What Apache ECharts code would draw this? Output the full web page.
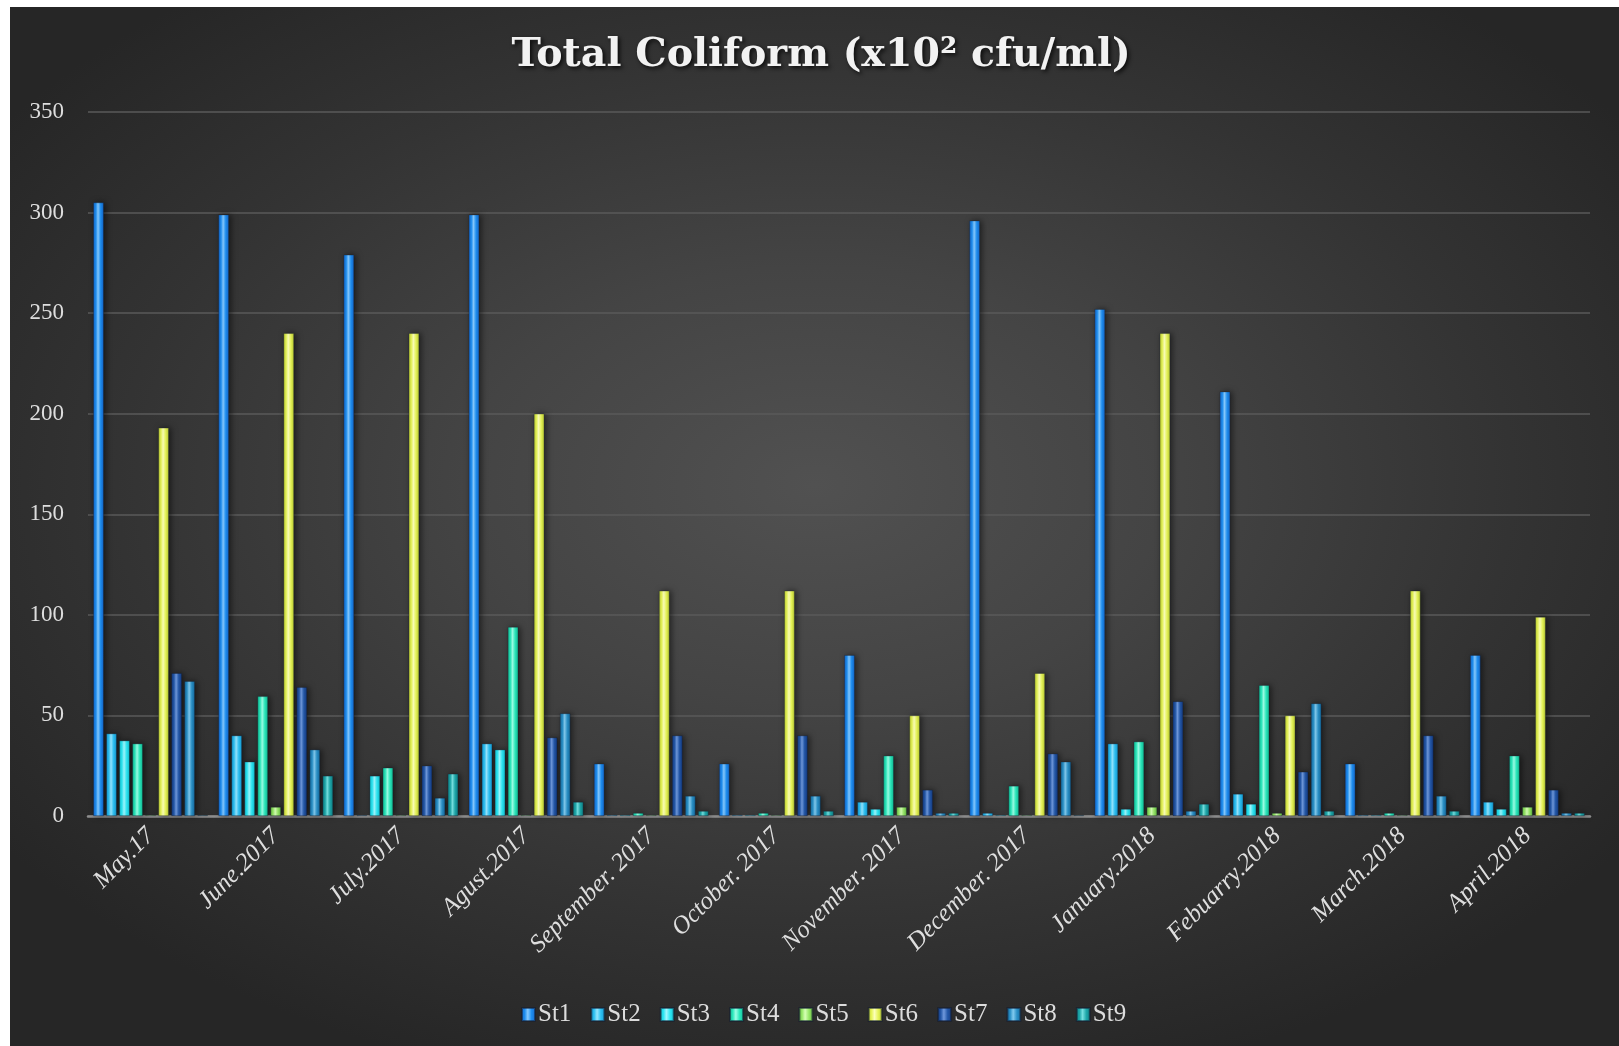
<!DOCTYPE html>
<html>
<head>
<meta charset="utf-8">
<title>Total Coliform</title>
<script src="https://cdn.jsdelivr.net/npm/echarts@6/dist/echarts.min.js"></script>
<style>
  html, body { margin: 0; padding: 0; background: #ffffff; }
  #panel {
    position: absolute; left: 10px; top: 7px; width: 1609px; height: 1039px;
    background: radial-gradient(ellipse 62% 60% at 50% 46%, #515151 0%, #444444 35%, #333333 70%, #262626 100%);
  }
  #chart { position: absolute; left: 0; top: 0; width: 1619px; height: 1046px; }
</style>
</head>
<body>
<div id="panel"></div>
<div id="chart"></div>
<script>
// Sampling months
const months = ['May.17', 'June.2017', 'July.2017', 'Agust.2017', 'September. 2017', 'October. 2017',
  'November. 2017', 'December. 2017', 'January.2018', 'Febuarry.2018', 'March.2018', 'April.2018'];

// Total coliform per station (x10² cfu/ml)
const st1 = [305, 299, 279, 299, 26, 26, 80, 296, 252, 211, 26, 80];
const st2 = [41, 40, 0.4, 36, 0.5, 0.5, 7, 1.5, 36, 11, 0.5, 7];
const st3 = [37.5, 27, 20, 33, 0.5, 0.5, 3.5, 0.5, 3.5, 6, 0.5, 3.5];
const st4 = [36, 59.5, 24, 94, 1.5, 1.5, 30, 15, 37, 65, 1.5, 30];
const st5 = [0.5, 4.5, 0.5, 0.5, 0.5, 0.5, 4.5, 0.5, 4.5, 1.5, 0.5, 4.5];
const st6 = [193, 240, 240, 200, 112, 112, 50, 71, 240, 50, 112, 99];
const st7 = [71, 64, 25, 39, 40, 40, 13, 31, 57, 22, 40, 13];
const st8 = [67, 33, 9, 51, 10, 10, 1.5, 27, 2.5, 56, 10, 1.5];
const st9 = [0.4, 20, 21, 7, 2.5, 2.5, 1.5, 0.4, 6, 2.5, 2.5, 1.5];

const stationNames = ['St1', 'St2', 'St3', 'St4', 'St5', 'St6', 'St7', 'St8', 'St9'];
const stationValues = [st1, st2, st3, st4, st5, st6, st7, st8, st9];

// [edge, base, highlight] shades for each station's glassy bars
const stationShades = [
  ['#1565c8', '#1e8ef0', '#86caff'],
  ['#1598d0', '#2cc0f2', '#96e6ff'],
  ['#12c0d0', '#2ce6f2', '#a0f8ff'],
  ['#12b890', '#2ae8bc', '#9cffe6'],
  ['#62b840', '#98e868', '#d6ffb6'],
  ['#b8c830', '#e6f458', '#fcffb8'],
  ['#143a80', '#2458a8', '#7099dc'],
  ['#14689c', '#2a90c6', '#82caee'],
  ['#107e84', '#1ea8aa', '#76e0e0']
];

const fontFamily = '"Liberation Serif", "DejaVu Serif", serif';

function glass(shade) {
  return new echarts.graphic.LinearGradient(0, 0, 1, 0, [
    { offset: 0, color: shade[0] },
    { offset: 0.25, color: shade[1] },
    { offset: 0.45, color: shade[2] },
    { offset: 0.7, color: shade[1] },
    { offset: 1, color: shade[0] }
  ]);
}

const series = stationNames.map((name, i) => ({
  name: name,
  type: 'bar',
  data: stationValues[i],
  barWidth: 10.5,
  barGap: '24%',
  itemStyle: {
    color: glass(stationShades[i]),
    borderColor: 'rgba(20,30,50,0.55)',
    borderWidth: 0.6,
    shadowColor: 'rgba(0,0,0,0.55)',
    shadowBlur: 6,
    shadowOffsetX: 2,
    shadowOffsetY: 0
  }
}));

const chart = echarts.init(document.getElementById('chart'), null, { renderer: 'canvas' });
chart.setOption({
  backgroundColor: 'transparent',
  animation: false,
  color: stationShades.map(s => s[1]),
  title: {
    text: 'Total Coliform (x10² cfu/ml)',
    left: 816,
    top: 31,
    textAlign: 'center',
    textStyle: {
      fontFamily: '"DejaVu Serif", serif',
      fontWeight: 'bold',
      fontSize: 39.5,
      color: '#f2f2f2',
      textShadowColor: 'rgba(0,0,0,0.8)',
      textShadowBlur: 4,
      textShadowOffsetX: 2,
      textShadowOffsetY: 2
    }
  },
  legend: {
    data: stationNames,
    left: 516,
    top: 997,
    itemWidth: 13,
    itemHeight: 13,
    itemGap: 19,
    icon: 'rect',
    textStyle: { fontFamily: fontFamily, fontSize: 25, color: '#dcdcdc', padding: [0, 0, 0, -2] }
  },
  grid: { left: 88, right: 29, top: 112, bottom: 230, containLabel: false },
  xAxis: {
    type: 'category',
    data: months,
    axisLine: { show: true, lineStyle: { color: '#8e8e8e', width: 2.5 } },
    axisTick: { show: false },
    axisLabel: {
      rotate: 45,
      interval: 0,
      margin: 16,
      fontFamily: fontFamily,
      fontStyle: 'italic',
      fontSize: 25,
      color: '#dedede'
    }
  },
  yAxis: {
    type: 'value',
    min: 0,
    max: 350,
    interval: 50,
    axisLine: { show: false },
    axisTick: { show: false },
    axisLabel: { margin: 24, fontFamily: fontFamily, fontSize: 23, color: '#dedede' },
    splitLine: { lineStyle: { color: '#5a5a5a', width: 1.5 } }
  },
  series: series
});
</script>
</body>
</html>
